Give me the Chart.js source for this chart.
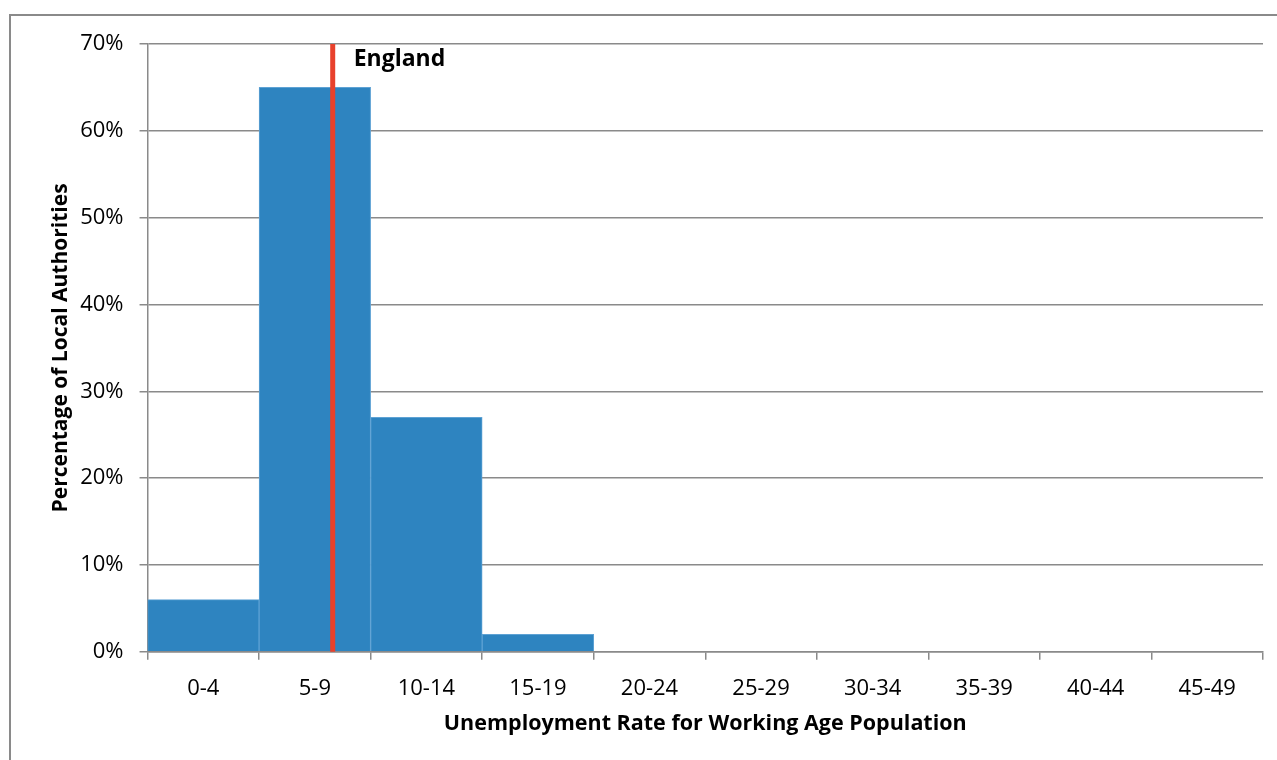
<!DOCTYPE html>
<html>
<head>
<meta charset="utf-8">
<script src="https://cdn.jsdelivr.net/npm/chart.js@4/dist/chart.umd.min.js"></script>
<style>
  html, body { margin: 0; padding: 0; background: #fff; overflow: hidden; }
  #frame { position: absolute; left: 9px; top: 14px; width: 1400px; height: 900px; border: 2px solid #8a8a8a; }
  #chart { position: absolute; left: 0; top: 0; }
</style>
</head>
<body>
<div id="frame"></div>
<canvas id="chart" width="1277" height="760"></canvas>
<script>
const categories = ["0-4", "5-9", "10-14", "15-19", "20-24", "25-29", "30-34", "35-39", "40-44", "45-49"];
const shares = [6, 65, 27, 2, 0, 0, 0, 0, 0, 0];
const binWidth = 5;
const englandRate = 8.3;
const englandLabel = "England";

const FONT = "'Open Sans', sans-serif";
const gridGrey = "#8a8a8a";

// England marker: rate converted to a position on the category axis
const englandMarker = {
  id: "englandMarker",
  afterDatasetsDraw(chart) {
    const xs = chart.scales.x, ys = chart.scales.y;
    const x = xs.getPixelForValue(englandRate / binWidth - 0.5);
    const top = ys.getPixelForValue(70), bottom = ys.getPixelForValue(0);
    const ctx = chart.ctx;
    ctx.save();
    ctx.strokeStyle = "#e8412c";
    ctx.lineWidth = 5;
    ctx.beginPath();
    ctx.moveTo(x, bottom);
    ctx.lineTo(x, top);
    ctx.stroke();
    ctx.font = "bold 23px " + FONT;
    ctx.fillStyle = "#000";
    ctx.textBaseline = "middle";
    ctx.fillText(englandLabel, x + 21, top + 15);
    ctx.restore();
  }
};

const ctx = document.getElementById("chart").getContext("2d");
new Chart(ctx, {
  type: "bar",
  data: {
    labels: categories,
    datasets: [
      {
        label: "Local Authorities",
        data: shares,
        backgroundColor: "#2e84c0",
        borderColor: "#5ea2d4",
        borderWidth: 1,
        barPercentage: 1,
        categoryPercentage: 1,
        grouped: false,
      },
    ],
  },
  options: {
    responsive: false,
    animation: false,
    layout: { padding: { left: 44, right: 14, top: 44, bottom: 19 } },
    plugins: {
      legend: { display: false },
      tooltip: { enabled: false },
    },
    scales: {
      x: {
        grid: { display: true, drawOnChartArea: false, drawTicks: true, tickLength: 8, color: gridGrey, lineWidth: 1.5 },
        border: { color: gridGrey, width: 1.5 },
        ticks: { color: "#000", font: { family: FONT, size: 22 }, padding: 16, maxRotation: 0 },
        title: { display: true, text: "Unemployment Rate for Working Age Population", color: "#000", font: { family: FONT, size: 21.5, weight: "bold" }, padding: { top: -7 } },
      },
      y: {
        min: 0,
        max: 70,
        ticks: { stepSize: 10, color: "#000", font: { family: FONT, size: 22 }, padding: 16, callback: (v) => v + "%" },
        grid: { color: gridGrey, lineWidth: 1.5, tickLength: 8 },
        border: { color: gridGrey, width: 1.5 },
        title: { display: true, text: "Percentage of Local Authorities", color: "#000", font: { family: FONT, size: 21, weight: "bold" }, padding: { top: 4, bottom: -9 } },
      },
    },
  },
  plugins: [englandMarker],
});
</script>
</body>
</html>
